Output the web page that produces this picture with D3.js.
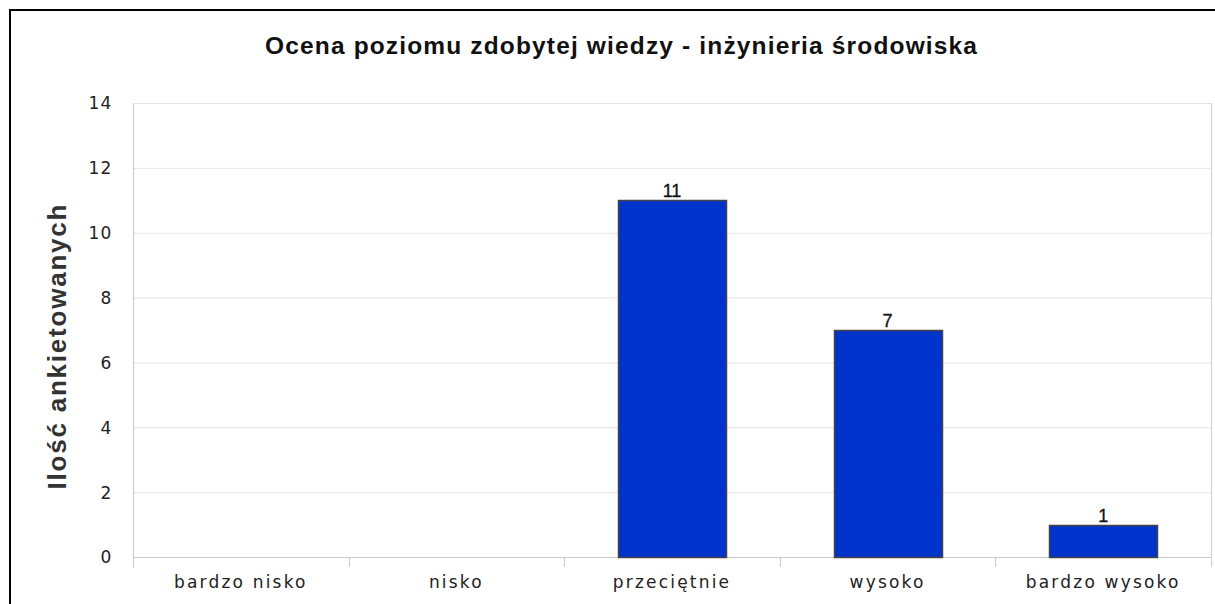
<!DOCTYPE html>
<html><head><meta charset="utf-8">
<script src="https://cdn.jsdelivr.net/npm/d3@7"></script>
<style>body{margin:0;background:#fff}svg{display:block}</style>
</head><body>
<svg id="c" width="1215" height="604"></svg>
<script>
const categories = ["bardzo nisko","nisko","przeciętnie","wysoko","bardzo wysoko"];
const values = [0,0,11,7,1];
const yTicks = [0,2,4,6,8,10,12,14];
const title = "Ocena poziomu zdobytej wiedzy - inżynieria środowiska";
const yTitle = "Ilość ankietowanych";

const svg = d3.select("#c");
const m = {left:133, top:103, right:1211, bottom:557};
const x = d3.scaleBand().domain(categories).range([m.left, m.right]).paddingInner(0).paddingOuter(0);
const y = d3.scaleLinear().domain([0,14]).range([m.bottom, m.top]);
const tickFont = "'DejaVu Sans', sans-serif";

// frame
svg.append("rect").attr("x",10).attr("y",10).attr("width",1230).attr("height",620)
  .attr("fill","none").attr("stroke","#000").attr("stroke-width",2);

// gridlines
svg.append("g").selectAll("line").data(yTicks.filter(d=>d>0)).join("line")
  .attr("x1",m.left).attr("x2",m.right).attr("y1",d=>y(d)+0.5).attr("y2",d=>y(d)+0.5)
  .attr("stroke","#e4e4e4").attr("stroke-width",1);
svg.append("line").attr("x1",m.right+0.5).attr("x2",m.right+0.5).attr("y1",m.top).attr("y2",m.bottom+10)
  .attr("stroke","#d0d0d0");

// y axis
const ya = svg.append("g").attr("transform",`translate(${m.left+0.5},0.5)`)
  .call(d3.axisLeft(y).tickValues(yTicks).tickSize(0).tickPadding(21).tickFormat(d3.format("d")));
ya.select(".domain").attr("stroke","#c8c8c8").attr("d",`M0,${m.top}V${m.bottom+10}`);
ya.selectAll("text").attr("font-family",tickFont).attr("font-size",17).attr("letter-spacing",1.2).attr("fill","#222");

// x axis
const xa = svg.append("g").attr("transform",`translate(0,${m.bottom+0.5})`)
  .call(d3.axisBottom(x).tickSize(0).tickPadding(18));
xa.select(".domain").attr("stroke","#c8c8c8").attr("d",`M${m.left},0H${m.right}`);
xa.selectAll("text").attr("font-family",tickFont).attr("font-size",17).attr("letter-spacing",2.2).attr("fill","#222");
svg.append("g").selectAll("line").data(categories.slice(1)).join("line")
  .attr("x1",d=>Math.round(x(d))+0.5).attr("x2",d=>Math.round(x(d))+0.5)
  .attr("y1",m.bottom).attr("y2",m.bottom+10).attr("stroke","#c8c8c8");

// bars
const data = categories.map((c,i)=>({c,v:values[i]})).filter(d=>d.v>0);
const bw = x.bandwidth()/2;
svg.append("g").selectAll("rect").data(data).join("rect")
  .attr("x",d=>Math.round(x(d.c)+x.bandwidth()/2-bw/2)+0.5)
  .attr("y",d=>Math.round(y(d.v))+0.5)
  .attr("width",Math.round(bw))
  .attr("height",d=>Math.round(y(0))-Math.round(y(d.v)))
  .attr("fill","#0033cc").attr("stroke","#444").attr("stroke-width",1.5);
svg.append("g").selectAll("text").data(data).join("text")
  .attr("x",d=>x(d.c)+x.bandwidth()/2).attr("y",d=>y(d.v)-3)
  .attr("text-anchor","middle").attr("font-family","'Liberation Sans', Arial, sans-serif")
  .attr("font-size",18).attr("fill","#111").attr("stroke","#111").attr("stroke-width",0.3).text(d=>d.v);

// title
svg.append("text").attr("x",621).attr("y",54).attr("text-anchor","middle")
  .attr("font-family","'Liberation Sans', Arial, sans-serif").attr("font-weight","bold").attr("font-size",24.5)
  .attr("textLength",712).attr("lengthAdjust","spacing")
  .attr("fill","#111").text(title);
// y title
svg.append("text").attr("transform","translate(66,347) rotate(-90)").attr("text-anchor","middle")
  .attr("font-family","'Liberation Sans', Arial, sans-serif").attr("font-weight","bold").attr("font-size",26)
  .attr("textLength",285).attr("lengthAdjust","spacing")
  .attr("fill","#333").text(yTitle);
</script>
</body></html>
